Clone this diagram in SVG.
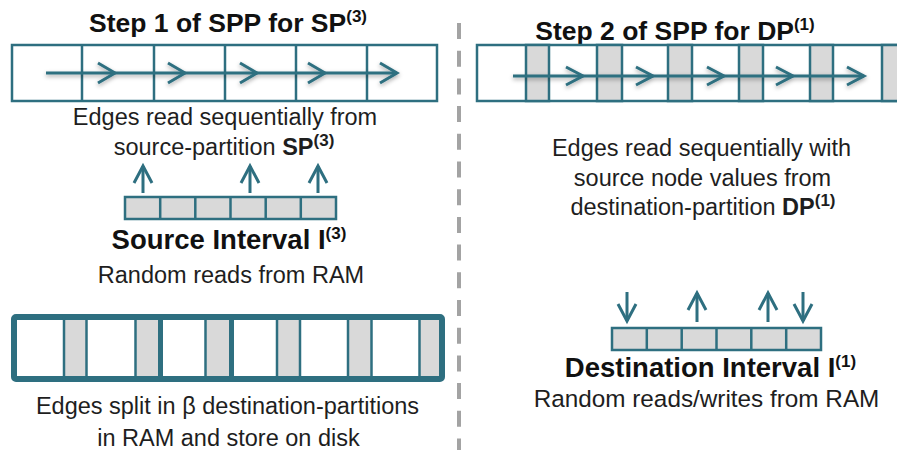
<svg xmlns="http://www.w3.org/2000/svg" width="897" height="450" viewBox="0 0 897 450">
<defs>
<style>
.box{fill:#fff;stroke:#2e6f80;stroke-width:2.5}
.cell{fill:#d9d9d9;stroke:#2e6f80;stroke-width:2.5}
.div{stroke:#2e6f80;stroke-width:2.5}
.arr{fill:none;stroke:#2e6f80;stroke-width:3;stroke-linecap:butt;stroke-linejoin:miter}
.t{font-family:"Liberation Sans",Arial,sans-serif;font-size:23.5px;fill:#1e1e1e;text-anchor:middle}
.b{font-weight:bold}
.h{font-family:"Liberation Sans",Arial,sans-serif;font-size:26.5px;font-weight:bold;fill:#111;text-anchor:middle}
.sup{font-size:17px;font-weight:bold}
</style>
<filter id="sh" x="-5%" y="-50%" width="110%" height="200%">
<feDropShadow dx="0" dy="2" stdDeviation="2" flood-color="#000" flood-opacity="0.35"/>
</filter>
</defs>
<rect width="897" height="450" fill="#fff"/>

<!-- divider dashed line -->
<line x1="459" y1="23" x2="459" y2="450" stroke="#a3a3a3" stroke-width="4" stroke-dasharray="16 11.7"/>

<!-- Step 1 title -->
<g id="step1-title">
<text class="h" x="228" y="32">Step 1 of SPP for SP<tspan class="sup" dy="-10">(3)</tspan></text>
</g>

<!-- Step 1 edge box -->
<g id="sp3-box">
<rect class="box" x="12" y="45" width="425" height="56"/>
<line class="div" x1="82" y1="45" x2="82" y2="101"/>
<line class="div" x1="154" y1="45" x2="154" y2="101"/>
<line class="div" x1="225" y1="45" x2="225" y2="101"/>
<line class="div" x1="296" y1="45" x2="296" y2="101"/>
<line class="div" x1="367" y1="45" x2="367" y2="101"/>
</g>

<g id="sp3-text">
<text class="t" x="225" y="125">Edges read sequentially from</text>
<text class="t" x="224" y="155">source-partition <tspan class="b">SP</tspan><tspan class="sup" dy="-9">(3)</tspan></text>
</g>

<!-- Source interval -->
<g id="source-interval">
<rect class="cell" x="125" y="197" width="211" height="22"/>
<line class="div" x1="160.2" y1="197" x2="160.2" y2="219"/>
<line class="div" x1="195.3" y1="197" x2="195.3" y2="219"/>
<line class="div" x1="230.5" y1="197" x2="230.5" y2="219"/>
<line class="div" x1="265.7" y1="197" x2="265.7" y2="219"/>
<line class="div" x1="300.8" y1="197" x2="300.8" y2="219"/>
<text class="h" x="229" y="249" style="font-size:27.5px">Source Interval I<tspan class="sup" dy="-10">(3)</tspan></text>
<text class="t" x="231" y="283">Random reads from RAM</text>
</g>

<!-- Partitions on disk -->
<g id="dest-partitions">
<rect x="14" y="317" width="428" height="62" rx="2" fill="#fff" stroke="#2e6f80" stroke-width="6"/>
<rect x="64" y="320" width="22" height="56" fill="#d9d9d9"/>
<rect x="136" y="320" width="22" height="56" fill="#d9d9d9"/>
<rect x="206" y="320" width="24" height="56" fill="#d9d9d9"/>
<rect x="277" y="320" width="23" height="56" fill="#d9d9d9"/>
<rect x="348" y="320" width="23" height="56" fill="#d9d9d9"/>
<rect x="420" y="320" width="19" height="56" fill="#d9d9d9"/>
<g stroke="#2e6f80" stroke-width="2.5">
<line x1="64" y1="317" x2="64" y2="379"/>
<line x1="86.5" y1="317" x2="86.5" y2="379"/>
<line x1="135.5" y1="317" x2="135.5" y2="379"/>
<line x1="205.5" y1="317" x2="205.5" y2="379"/>
<line x1="277" y1="317" x2="277" y2="379"/>
<line x1="300" y1="317" x2="300" y2="379"/>
<line x1="348" y1="317" x2="348" y2="379"/>
<line x1="371.5" y1="317" x2="371.5" y2="379"/>
<line x1="419.5" y1="317" x2="419.5" y2="379"/>
</g>
<g stroke="#2e6f80" stroke-width="5">
<line x1="160.5" y1="317" x2="160.5" y2="379"/>
<line x1="231.5" y1="317" x2="231.5" y2="379"/>
</g>
<text class="t" x="227.5" y="414">Edges split in β destination-partitions</text>
<text class="t" x="228.5" y="446">in RAM and store on disk</text>
</g>

<!-- Step 2 title -->
<g id="step2-title">
<text class="h" x="675" y="40">Step 2 of SPP for DP<tspan class="sup" dy="-10">(1)</tspan></text>
</g>

<!-- Step 2 edge box -->
<g id="dp1-box">
<rect class="box" x="477" y="45" width="440" height="56"/>
<rect class="cell" x="526" y="45" width="23" height="56"/>
<rect class="cell" x="597" y="45" width="25" height="56"/>
<rect class="cell" x="668" y="45" width="24" height="56"/>
<rect class="cell" x="739" y="45" width="24" height="56"/>
<rect class="cell" x="810" y="45" width="23" height="56"/>
<rect class="cell" x="882" y="45" width="30" height="56"/>
</g>

<g id="dp1-text">
<text class="t" x="701.5" y="156">Edges read sequentially with</text>
<text class="t" x="702.5" y="186">source node values from</text>
<text class="t" x="703" y="215">destination-partition <tspan class="b">DP</tspan><tspan class="sup" dy="-9">(1)</tspan></text>
</g>

<!-- Destination interval -->
<g id="destination-interval">
<rect class="cell" x="612" y="328" width="209" height="22"/>
<line class="div" x1="646.8" y1="328" x2="646.8" y2="350"/>
<line class="div" x1="681.7" y1="328" x2="681.7" y2="350"/>
<line class="div" x1="716.5" y1="328" x2="716.5" y2="350"/>
<line class="div" x1="751.3" y1="328" x2="751.3" y2="350"/>
<line class="div" x1="786.2" y1="328" x2="786.2" y2="350"/>
<text class="h" x="710.5" y="377" style="font-size:27.5px">Destination Interval I<tspan class="sup" dy="-10">(1)</tspan></text>
<text class="t" x="706.5" y="407" style="font-size:24.3px">Random reads/writes from RAM</text>
</g>

<!-- connectors -->
<g id="connectors">
<g filter="url(#sh)">
<line class="arr" x1="46" y1="73" x2="397" y2="73"/>
<polyline class="arr" points="98,63 115,73 98,83"/>
<polyline class="arr" points="168,63 185,73 168,83"/>
<polyline class="arr" points="240,63 257,73 240,83"/>
<polyline class="arr" points="308,63 325,73 308,83"/>
<polyline class="arr" points="380,63 397,73 380,83"/>
</g>
<g filter="url(#sh)">
<line class="arr" x1="513" y1="76" x2="864" y2="76"/>
<polyline class="arr" points="566,67 583,76 566,85"/>
<polyline class="arr" points="636,67 653,76 636,85"/>
<polyline class="arr" points="707,67 724,76 707,85"/>
<polyline class="arr" points="776,67 793,76 776,85"/>
<polyline class="arr" points="847,67 864,76 847,85"/>
</g>
<g id="src-reads">
<line class="arr" x1="143" y1="193" x2="143" y2="166"/>
<polyline class="arr" points="134,183 143,166 152,183"/>
<line class="arr" x1="250" y1="193" x2="250" y2="166"/>
<polyline class="arr" points="241,183 250,166 259,183"/>
<line class="arr" x1="318" y1="193" x2="318" y2="166"/>
<polyline class="arr" points="309,183 318,166 327,183"/>
</g>
<g id="dst-rw">
<line class="arr" x1="627" y1="292" x2="627" y2="321"/>
<polyline class="arr" points="618,304 627,321 636,304"/>
<line class="arr" x1="697" y1="322" x2="697" y2="293"/>
<polyline class="arr" points="688,310 697,293 706,310"/>
<line class="arr" x1="768" y1="322" x2="768" y2="293"/>
<polyline class="arr" points="759,310 768,293 777,310"/>
<line class="arr" x1="803" y1="292" x2="803" y2="321"/>
<polyline class="arr" points="794,304 803,321 812,304"/>
</g>
</g>
</svg>
